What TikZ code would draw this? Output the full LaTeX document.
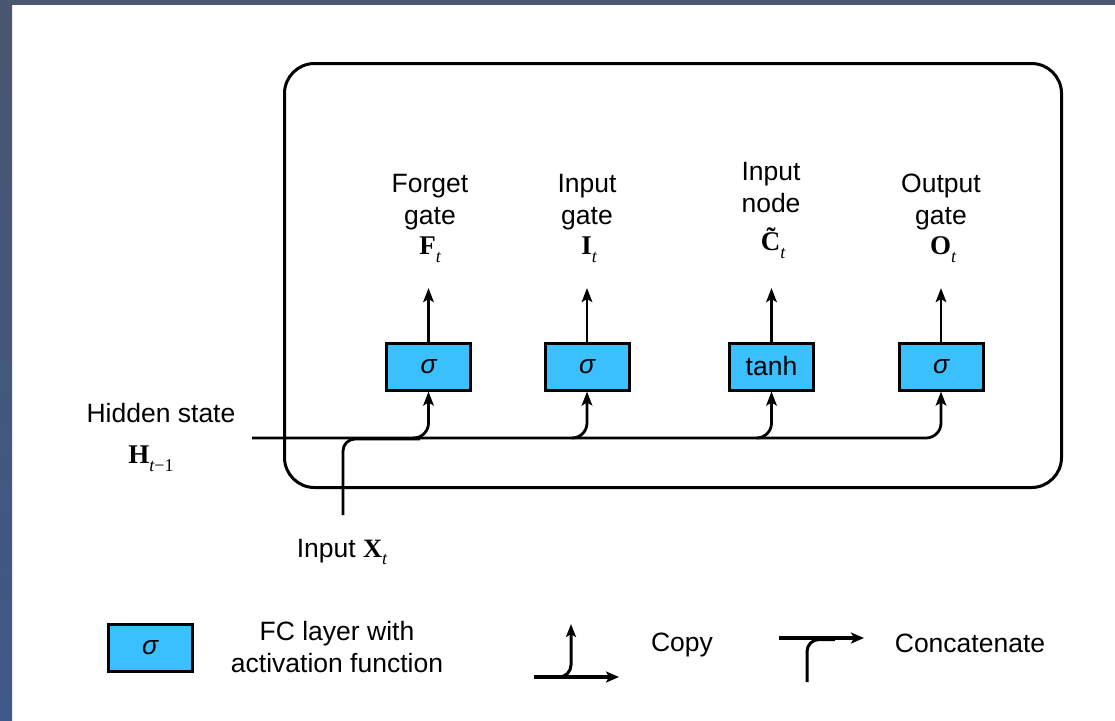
\documentclass[tikz,border=0pt]{standalone}
\usepackage{fontspec}
\setmainfont{Liberation Sans}
\newfontfamily\serifsym{Liberation Serif}
\usetikzlibrary{arrows.meta}

\definecolor{fcblue}{RGB}{58,192,255}
\definecolor{frameA}{RGB}{75,86,112}
\definecolor{frameB}{RGB}{63,89,138}

% bold serif symbol with an italic subscript
\newcommand{\vsym}[2]{{\serifsym\bfseries #1}\raisebox{-0.55ex}{\serifsym\itshape\fontsize{18}{18}\selectfont #2}}

\begin{document}
\begin{tikzpicture}[x=1pt,y=-1pt,
  every node/.style={font=\fontsize{26.5}{32}\selectfont, inner sep=0pt},
  fc/.style={draw, line width=3pt, fill=fcblue, minimum width=84pt, minimum height=47pt},
  ln/.style={line width=2.8pt},
  arr/.style={ln, -{Stealth[length=14pt,width=10.5pt,inset=3pt]}},
  legarr/.style={line width=4.2pt, -{Stealth[length=13pt,width=11pt,inset=3pt]}},
  lbl/.style={align=center},
  sym/.style={font=\fontsize{27}{30}\selectfont}]

% canvas and window edges
\useasboundingbox (0,0) rectangle (1115,720);
\fill[white] (0,0) rectangle (1115,720);
\fill[frameA] (0,0) rectangle (1115,5);
\shade[top color=frameA, bottom color=frameB] (0,0) rectangle (12,720);

% LSTM cell outline
\draw[line width=3pt, rounded corners=30pt] (284.5,63.5) rectangle (1061.5,487.5);

% gate layers
\node[fc] (f) at (428.5,366.5) {\itshape σ};
\node[fc] (i) at (587,366.5) {\itshape σ};
\node[fc] (c) at (771.5,366.5) {tanh};
\node[fc] (o) at (941,366.5) {\itshape σ};

% gate outputs
\node[lbl] (lf) at (430,202) {Forget\\gate};
\node[lbl] (li) at (587,202) {Input\\gate};
\node[lbl] (lc) at (771,188) {Input\\node};
\node[lbl] (lo) at (941,202) {Output\\gate};
\node[sym] (sf) at (430,250) {\vsym{F}{t}};
\node[sym] (si) at (589,250) {\vsym{I}{t}};
\node[sym] (sc) at (773,243) {\vsym{\~{C}}{t}};
\node[sym] (so) at (943,250) {\vsym{O}{t}};

\coordinate (fo) at (428.5,288);
\coordinate (io) at (587,288);
\coordinate (co) at (771.5,288);
\coordinate (oo) at (941,288);
\draw[arr] (f.north) -- (fo);
\draw[arr] (i.north) -- (io);
\draw[arr] (c.north) -- (co);
\draw[arr] (o.north) -- (oo);

% inputs
\node (lh) at (161,413) {Hidden state};
\node[sym] (sh) at (151,459) {{\serifsym\bfseries H}\raisebox{-0.55ex}{\serifsym\fontsize{18}{18}\selectfont\itshape t\upshape−1}};
\node (lx) at (342,552) {Input \vsym{X}{t}};

\coordinate (hin) at (252,438);
\coordinate (xin) at (343,515);
\coordinate (xm) at (420,439);

% hidden state runs through to the output gate; the input joins it
\draw[arr, rounded corners=15pt] (hin) -| (o.south);
\draw[ln, rounded corners=12pt] (xin) |- (xm);

% copies branching up to the other gates
\coordinate (bf) at (413,438);
\coordinate (bi) at (572,438);
\coordinate (bc) at (756.5,438);
\draw[arr, rounded corners=15pt] (bf) -| (f.south);
\draw[arr, rounded corners=15pt] (bi) -| (i.south);
\draw[arr, rounded corners=15pt] (bc) -| (c.south);

% legend
\node[fc] (lg) at (150,647.5) {\itshape σ};
\node[lbl] (lgt) at (337,647) {FC layer with\\activation function};

\coordinate (cpa) at (534,677);
\coordinate (cpb) at (619,677);
\coordinate (cpc) at (559,677);
\coordinate (cpd) at (571,624);
\draw[legarr] (cpa) -- (cpb);
\draw[line width=3pt, -{Stealth[length=13pt,width=10pt,inset=3pt]}, rounded corners=12pt] (cpc) -| (cpd);
\node (lcp) at (682,645) {Copy};

\coordinate (cca) at (779,638);
\coordinate (ccb) at (864,638);
\coordinate (ccc) at (807,682);
\coordinate (ccd) at (835,639.5);
\draw[legarr] (cca) -- (ccb);
\draw[line width=3pt, rounded corners=12pt] (ccc) |- (ccd);
\node (lcc) at (970,643) {Concatenate};

\end{tikzpicture}
\end{document}
